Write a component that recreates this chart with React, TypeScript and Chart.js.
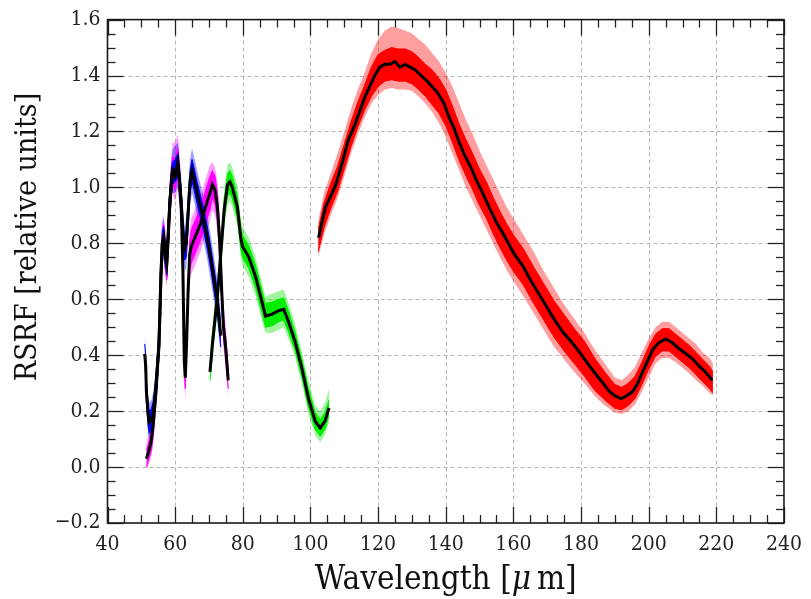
import React, { useEffect, useRef } from 'react';
import { Chart, registerables } from 'chart.js';
Chart.register(...registerables);

// ---------- axis values ----------
const X_MIN = 40, X_MAX = 240, Y_MIN = -0.2, Y_MAX = 1.6;
const xTickValues = [40, 60, 80, 100, 120, 140, 160, 180, 200, 220, 240];
const yTickValues = [-0.2, 0.0, 0.2, 0.4, 0.6, 0.8, 1.0, 1.2, 1.4, 1.6];
const X_MINOR_STEP = 5;
const Y_MINOR_STEP = 0.05;
const xTitle = ['Wavelength [', 'μ', '\u2009m]'];
const yTitle = 'RSRF [relative units]';

// ---------- blue (curve A) ----------
const blueX = [51.0, 51.3, 51.5, 52.0, 52.3, 53.0, 53.6, 54.0, 54.4, 54.8, 55.2, 55.5, 55.8, 56.2, 56.6, 57.0, 57.5, 58.0, 58.5, 59.2, 60.0, 60.8, 61.3, 61.8, 62.3, 62.8, 63.3, 63.8, 64.4, 65.0, 65.6, 66.5, 67.5, 68.5, 69.5, 70.5, 71.5, 72.5, 73.5];
const blueY = [0.405, 0.36, 0.27, 0.19, 0.16, 0.17, 0.20, 0.25, 0.30, 0.37, 0.44, 0.56, 0.69, 0.80, 0.82, 0.77, 0.73, 0.85, 0.96, 1.05, 1.06, 1.08, 1.02, 0.95, 0.84, 0.78, 0.80, 0.90, 1.02, 1.06, 1.03, 0.98, 0.93, 0.88, 0.82, 0.75, 0.67, 0.59, 0.47];
const blueInU = [0.44, 0.40, 0.31, 0.23, 0.20, 0.21, 0.24, 0.29, 0.34, 0.41, 0.48, 0.60, 0.73, 0.84, 0.86, 0.81, 0.77, 0.89, 1.00, 1.09, 1.10, 1.12, 1.06, 0.99, 0.88, 0.82, 0.85, 0.95, 1.06, 1.10, 1.07, 1.02, 0.97, 0.92, 0.86, 0.79, 0.71, 0.63, 0.51];
const blueInL = [0.37, 0.32, 0.23, 0.15, 0.12, 0.13, 0.16, 0.21, 0.26, 0.33, 0.40, 0.52, 0.65, 0.76, 0.78, 0.73, 0.69, 0.81, 0.92, 1.01, 1.02, 1.04, 0.98, 0.91, 0.80, 0.74, 0.75, 0.85, 0.98, 1.02, 0.99, 0.94, 0.89, 0.84, 0.78, 0.71, 0.63, 0.55, 0.43];
const blueOutU = [0.47, 0.43, 0.34, 0.26, 0.23, 0.24, 0.27, 0.32, 0.37, 0.44, 0.51, 0.63, 0.76, 0.87, 0.89, 0.84, 0.80, 0.92, 1.04, 1.13, 1.15, 1.16, 1.10, 1.03, 0.92, 0.86, 0.89, 0.99, 1.10, 1.14, 1.11, 1.06, 1.01, 0.96, 0.90, 0.83, 0.75, 0.67, 0.55];
const blueOutL = [0.34, 0.29, 0.20, 0.12, 0.09, 0.10, 0.13, 0.18, 0.23, 0.30, 0.37, 0.49, 0.62, 0.73, 0.75, 0.70, 0.66, 0.78, 0.89, 0.98, 0.98, 1.00, 0.94, 0.87, 0.76, 0.70, 0.71, 0.81, 0.94, 0.98, 0.95, 0.90, 0.85, 0.80, 0.74, 0.67, 0.59, 0.51, 0.40];

// ---------- magenta (curve B) ----------
const magX = [51.5, 52.0, 52.5, 53.0, 53.5, 54.0, 54.4, 54.8, 55.2, 55.5, 55.8, 56.2, 56.6, 57.0, 57.5, 58.0, 58.5, 59.2, 60.0, 60.8, 61.3, 61.8, 62.3, 62.7, 63.0, 63.4, 63.8, 64.3, 64.8, 65.5, 66.5, 67.5, 68.5, 69.5, 70.3, 71.0, 71.8, 72.5, 73.2, 73.8, 74.3, 75.0, 75.7];
const magY = [0.03, 0.05, 0.07, 0.10, 0.15, 0.22, 0.28, 0.36, 0.43, 0.55, 0.68, 0.80, 0.82, 0.77, 0.72, 0.83, 0.96, 1.06, 1.04, 1.09, 1.02, 0.93, 0.70, 0.38, 0.32, 0.45, 0.62, 0.76, 0.79, 0.81, 0.84, 0.87, 0.91, 0.95, 0.98, 1.01, 0.99, 0.93, 0.80, 0.62, 0.50, 0.42, 0.31];
const magInU = [0.06, 0.08, 0.10, 0.14, 0.19, 0.26, 0.32, 0.40, 0.47, 0.59, 0.72, 0.85, 0.87, 0.82, 0.77, 0.88, 1.01, 1.11, 1.10, 1.14, 1.07, 0.98, 0.75, 0.42, 0.36, 0.49, 0.66, 0.81, 0.85, 0.87, 0.90, 0.93, 0.97, 1.01, 1.04, 1.06, 1.04, 0.98, 0.85, 0.66, 0.54, 0.46, 0.34];
const magInL = [0.00, 0.02, 0.04, 0.06, 0.11, 0.18, 0.24, 0.32, 0.39, 0.51, 0.64, 0.75, 0.77, 0.72, 0.67, 0.78, 0.91, 1.01, 0.99, 1.04, 0.97, 0.88, 0.65, 0.34, 0.28, 0.41, 0.58, 0.71, 0.73, 0.75, 0.78, 0.81, 0.85, 0.89, 0.92, 0.96, 0.94, 0.88, 0.75, 0.58, 0.46, 0.38, 0.28];
const magOutU = [0.09, 0.11, 0.13, 0.17, 0.22, 0.29, 0.35, 0.43, 0.50, 0.62, 0.75, 0.88, 0.90, 0.86, 0.81, 0.92, 1.05, 1.16, 1.16, 1.19, 1.12, 1.03, 0.80, 0.46, 0.40, 0.53, 0.70, 0.85, 0.89, 0.91, 0.94, 0.97, 1.01, 1.05, 1.08, 1.09, 1.07, 1.02, 0.89, 0.70, 0.58, 0.50, 0.37];
const magOutL = [-0.01, 0.00, 0.02, 0.04, 0.08, 0.15, 0.21, 0.29, 0.36, 0.48, 0.61, 0.72, 0.74, 0.69, 0.64, 0.75, 0.88, 0.98, 0.95, 1.00, 0.93, 0.84, 0.60, 0.30, 0.24, 0.37, 0.54, 0.67, 0.69, 0.71, 0.74, 0.77, 0.81, 0.85, 0.88, 0.92, 0.90, 0.84, 0.71, 0.54, 0.42, 0.34, 0.25];

// ---------- green ----------
const greenX = [70.3, 71.1, 72.5, 73.5, 74.5, 75.5, 76.2, 76.9, 78.4, 79.4, 79.9, 81.8, 83.8, 85.7, 86.7, 88.7, 90.6, 92.1, 93.6, 95.5, 97.5, 99.4, 101.4, 102.9, 104.3, 105.5];
const greenY = [0.34, 0.45, 0.61, 0.765, 0.92, 1.01, 1.02, 1.00, 0.93, 0.82, 0.79, 0.75, 0.68, 0.59, 0.54, 0.547, 0.559, 0.564, 0.517, 0.447, 0.352, 0.246, 0.164, 0.14, 0.164, 0.211];
const greenInU = [0.37, 0.48, 0.645, 0.80, 0.955, 1.05, 1.06, 1.04, 0.97, 0.86, 0.83, 0.79, 0.72, 0.63, 0.585, 0.59, 0.60, 0.605, 0.555, 0.48, 0.385, 0.28, 0.195, 0.17, 0.195, 0.24];
const greenInL = [0.31, 0.42, 0.575, 0.73, 0.885, 0.97, 0.98, 0.96, 0.89, 0.78, 0.75, 0.71, 0.64, 0.55, 0.50, 0.505, 0.52, 0.525, 0.48, 0.415, 0.32, 0.215, 0.135, 0.11, 0.135, 0.185];
const greenOutU = [0.40, 0.52, 0.68, 0.84, 0.99, 1.08, 1.09, 1.07, 1.01, 0.89, 0.86, 0.82, 0.75, 0.66, 0.61, 0.62, 0.63, 0.635, 0.585, 0.51, 0.41, 0.31, 0.22, 0.20, 0.23, 0.28];
const greenOutL = [0.29, 0.39, 0.55, 0.70, 0.85, 0.94, 0.95, 0.93, 0.86, 0.75, 0.72, 0.68, 0.61, 0.52, 0.48, 0.48, 0.49, 0.50, 0.455, 0.39, 0.295, 0.19, 0.115, 0.09, 0.115, 0.16];

// ---------- red ----------
const redLineX = [102.4, 103.3, 104.5, 106.0, 107.5, 109.2, 111.2, 113.0, 114.5, 116.0, 117.5, 119.0, 120.5, 122.0, 123.5, 125.0, 126.5, 128.0, 129.5, 131.0, 132.7, 134.5, 136.0, 137.5, 139.5, 141.0, 142.5, 144.0, 145.4, 147.5, 149.3, 151.3, 153.2, 155.2, 157.2, 160.1, 163.0, 165.0, 168.0, 170.0, 172.5, 174.8, 177.0, 179.6, 182.0, 184.5, 186.5, 188.4, 190.0, 191.9, 193.5, 195.3, 196.8, 198.2, 199.7, 201.2, 203.0, 205.1, 207.0, 209.0, 211.0, 212.9, 215.0, 216.8, 218.8];
const redLineY = [0.82, 0.87, 0.93, 0.97, 1.01, 1.08, 1.17, 1.22, 1.27, 1.32, 1.36, 1.40, 1.43, 1.44, 1.44, 1.45, 1.43, 1.44, 1.43, 1.42, 1.40, 1.38, 1.36, 1.34, 1.30, 1.25, 1.21, 1.16, 1.12, 1.07, 1.02, 0.97, 0.92, 0.87, 0.83, 0.765, 0.715, 0.67, 0.61, 0.57, 0.52, 0.48, 0.45, 0.41, 0.37, 0.33, 0.30, 0.27, 0.255, 0.245, 0.255, 0.27, 0.30, 0.34, 0.38, 0.42, 0.445, 0.458, 0.445, 0.423, 0.405, 0.388, 0.36, 0.34, 0.31];
const redEnvX = [102.3, 104, 106, 108, 110, 112, 114, 116, 118, 120, 122, 124, 126, 128, 130, 132, 134, 136, 138, 140, 142, 144, 146, 148, 150, 152, 154, 156, 158, 160, 163, 166, 169, 172, 175, 178, 181, 184, 187, 190, 192, 194, 196, 198, 200, 202, 204, 206, 208, 210, 212, 214, 216, 218, 219];
const redInU = [0.85, 0.945, 1.015, 1.075, 1.155, 1.235, 1.305, 1.365, 1.43, 1.475, 1.49, 1.50, 1.495, 1.495, 1.485, 1.465, 1.44, 1.42, 1.39, 1.35, 1.29, 1.225, 1.17, 1.12, 1.065, 1.02, 0.965, 0.915, 0.87, 0.83, 0.78, 0.715, 0.655, 0.595, 0.545, 0.495, 0.45, 0.39, 0.34, 0.295, 0.285, 0.30, 0.325, 0.375, 0.43, 0.475, 0.495, 0.495, 0.475, 0.455, 0.435, 0.41, 0.385, 0.36, 0.34];
const redInL = [0.77, 0.855, 0.925, 0.985, 1.065, 1.145, 1.215, 1.275, 1.325, 1.36, 1.38, 1.385, 1.38, 1.38, 1.37, 1.35, 1.325, 1.295, 1.265, 1.22, 1.16, 1.095, 1.04, 0.99, 0.935, 0.89, 0.835, 0.785, 0.74, 0.70, 0.65, 0.585, 0.525, 0.465, 0.415, 0.37, 0.325, 0.275, 0.24, 0.21, 0.205, 0.22, 0.245, 0.295, 0.35, 0.395, 0.415, 0.415, 0.395, 0.375, 0.355, 0.33, 0.305, 0.28, 0.265];
const redOutU = [0.88, 0.98, 1.05, 1.12, 1.20, 1.28, 1.35, 1.41, 1.48, 1.53, 1.56, 1.575, 1.57, 1.56, 1.55, 1.53, 1.51, 1.48, 1.45, 1.41, 1.36, 1.30, 1.24, 1.19, 1.13, 1.08, 1.03, 0.98, 0.93, 0.89, 0.83, 0.77, 0.70, 0.64, 0.58, 0.53, 0.48, 0.42, 0.37, 0.32, 0.31, 0.33, 0.36, 0.41, 0.46, 0.50, 0.52, 0.52, 0.50, 0.48, 0.46, 0.44, 0.41, 0.39, 0.37];
const redOutL = [0.75, 0.83, 0.90, 0.96, 1.04, 1.12, 1.19, 1.25, 1.30, 1.33, 1.35, 1.355, 1.35, 1.35, 1.345, 1.325, 1.30, 1.27, 1.23, 1.18, 1.12, 1.06, 1.00, 0.95, 0.90, 0.85, 0.80, 0.75, 0.705, 0.665, 0.61, 0.55, 0.49, 0.43, 0.385, 0.34, 0.30, 0.255, 0.22, 0.195, 0.19, 0.20, 0.225, 0.27, 0.32, 0.37, 0.39, 0.39, 0.375, 0.355, 0.335, 0.31, 0.29, 0.265, 0.255];

const pts = (xs: number[], ys: number[]) => xs.map((x, i) => ({ x, y: ys[i] }));

function buildDatasets() {
  const ds: any[] = [];
  const band = (xs: number[], up: number[], lo: number[], color: string, border: string, order: number) => {
    const i = ds.length;
    ds.push({ data: pts(xs, up), borderColor: border, borderWidth: 1, pointRadius: 0, fill: false, order, tension: 0 });
    ds.push({ data: pts(xs, lo), borderColor: border, borderWidth: 1, pointRadius: 0, fill: i, backgroundColor: color, order, tension: 0 });
  };
  const line = (xs: number[], ys: number[]) => {
    ds.push({ data: pts(xs, ys), borderColor: '#000000', borderWidth: 3, pointRadius: 0, fill: false, order: 0, tension: 0 });
  };
  // sparse outer scatter
  band(redEnvX, redOutU, redOutL, 'rgba(255,0,0,0.38)', 'rgba(0,0,0,0)', 40);
  band(greenX, greenOutU, greenOutL, 'rgba(0,230,0,0.38)', 'rgba(0,0,0,0)', 40);
  band(magX, magOutU, magOutL, 'rgba(255,0,255,0.38)', 'rgba(0,0,0,0)', 41);
  band(blueX, blueOutU, blueOutL, 'rgba(0,0,255,0.38)', 'rgba(0,0,0,0)', 39);
  // dense inner scatter
  band(redEnvX, redInU, redInL, '#ff0000', '#ff0000', 20);
  band(greenX, greenInU, greenInL, '#00ee00', '#00ee00', 20);
  band(magX, magInU, magInL, '#ff00ff', '#ff00ff', 22);
  band(blueX, blueInU, blueInL, '#0000ff', '#0000ff', 21);
  // averaged black curves
  line(redLineX, redLineY);
  line(greenX, greenY);
  line(magX, magY);
  line(blueX, blueY);
  return ds;
}

const FONT = '"DejaVu Serif Condensed", "DejaVu Serif", serif';

const framePlugin = {
  id: 'framePlugin',
  beforeDatasetsDraw(chart: any) {
    const { ctx, chartArea: a, scales } = chart;
    const x = scales.x, y = scales.y;
    ctx.save();
    ctx.strokeStyle = '#b5b5b5';
    ctx.lineWidth = 1;
    ctx.setLineDash([4, 3]);
    for (const v of xTickValues) {
      if (v <= X_MIN || v >= X_MAX) continue;
      const p = Math.round(x.getPixelForValue(v)) + 0.5;
      ctx.beginPath(); ctx.moveTo(p, a.top); ctx.lineTo(p, a.bottom); ctx.stroke();
    }
    for (const v of yTickValues) {
      if (v <= Y_MIN + 1e-9 || v >= Y_MAX - 1e-9) continue;
      const p = Math.round(y.getPixelForValue(v)) + 0.5;
      ctx.beginPath(); ctx.moveTo(a.left, p); ctx.lineTo(a.right, p); ctx.stroke();
    }
    ctx.restore();
  },
  afterDatasetsDraw(chart: any) {
    const { ctx, chartArea: a, scales } = chart;
    const x = scales.x, y = scales.y;
    ctx.save();
    ctx.setLineDash([]);
    ctx.strokeStyle = '#222';
    ctx.lineWidth = 1.3;
    const MAJ = 16, MIN = 8;
    const nx = Math.round((X_MAX - X_MIN) / X_MINOR_STEP);
    for (let k = 0; k <= nx; k++) {
      const v = X_MIN + k * X_MINOR_STEP;
      const major = xTickValues.some((t) => Math.abs(t - v) < 1e-6);
      const len = major ? MAJ : MIN;
      const p = Math.round(x.getPixelForValue(v)) + 0.5;
      ctx.beginPath(); ctx.moveTo(p, a.bottom); ctx.lineTo(p, a.bottom - len); ctx.stroke();
      ctx.beginPath(); ctx.moveTo(p, a.top); ctx.lineTo(p, a.top + len); ctx.stroke();
    }
    const ny = Math.round((Y_MAX - Y_MIN) / Y_MINOR_STEP);
    for (let k = 0; k <= ny; k++) {
      const v = Y_MIN + k * Y_MINOR_STEP;
      const major = yTickValues.some((t) => Math.abs(t - v) < 1e-6);
      const len = major ? MAJ : MIN;
      const p = Math.round(y.getPixelForValue(v)) + 0.5;
      ctx.beginPath(); ctx.moveTo(a.left, p); ctx.lineTo(a.left + len, p); ctx.stroke();
      ctx.beginPath(); ctx.moveTo(a.right, p); ctx.lineTo(a.right - len, p); ctx.stroke();
    }
    ctx.lineWidth = 1.6;
    ctx.strokeStyle = '#1a1a1a';
    ctx.strokeRect(a.left, a.top, a.right - a.left, a.bottom - a.top);
    ctx.restore();
  },
  afterDraw(chart: any) {
    const { ctx, chartArea: a } = chart;
    ctx.save();
    ctx.fillStyle = '#111';
    // x title
    const fsx = 33;
    const parts = xTitle.map((t, i) => ({ t, font: (i === 1 ? 'italic ' : '') + fsx + 'px ' + FONT }));
    let total = 0;
    const widths = parts.map((p) => { ctx.font = p.font; const w = ctx.measureText(p.t).width; total += w; return w; });
    let cx = (a.left + a.right) / 2 - total / 2;
    ctx.textBaseline = 'alphabetic';
    ctx.textAlign = 'left';
    parts.forEach((p, i) => { ctx.font = p.font; ctx.fillText(p.t, cx, 589); cx += widths[i]; });
    // y title
    ctx.font = '30px ' + FONT;
    ctx.translate(36, 237);
    ctx.rotate(-Math.PI / 2);
    ctx.textAlign = 'center';
    ctx.fillText(yTitle, 0, 0);
    ctx.restore();
  },
};

export default function App() {
  const ref = useRef<HTMLCanvasElement | null>(null);
  useEffect(() => {
    if (!ref.current) return;
    const chart = new Chart(ref.current, {
      type: 'line',
      data: { datasets: buildDatasets() },
      options: {
        responsive: false,
        animation: false,
        events: [],
        layout: { padding: { left: 0, top: 13.5, right: 22, bottom: 0 } },
        plugins: { legend: { display: false }, tooltip: { enabled: false }, title: { display: false } },
        scales: {
          x: {
            type: 'linear', min: X_MIN, max: X_MAX,
            grid: { display: false, drawTicks: false },
            border: { display: false },
            afterBuildTicks: (s: any) => { s.ticks = xTickValues.map((v) => ({ value: v })); },
            afterFit: (s: any) => { s.height = 76; },
            ticks: {
              autoSkip: false, maxRotation: 0, padding: 9, color: '#222',
              font: { family: FONT, size: 21 },
              callback: (v: any) => String(Math.round(Number(v))),
            },
          },
          y: {
            type: 'linear', min: Y_MIN, max: Y_MAX,
            grid: { display: false, drawTicks: false },
            border: { display: false },
            afterBuildTicks: (s: any) => { s.ticks = yTickValues.map((v) => ({ value: v })); },
            afterFit: (s: any) => { s.width = 107.5; },
            ticks: {
              autoSkip: false, padding: 7, color: '#222',
              font: { family: FONT, size: 21 },
              callback: (v: any) => {
                const n = Number(v);
                if (Math.abs(n) < 1e-9) return '0.0';
                return n < 0 ? '\u2212' + Math.abs(n).toFixed(1) : n.toFixed(1);
              },
            },
          },
        },
      },
      plugins: [framePlugin],
    } as any);
    return () => chart.destroy();
  }, []);
  return (
    <div style={{ position: 'fixed', left: 0, top: 0, width: 811, height: 599, background: '#fff' }}>
      <canvas ref={ref} width={811} height={599} style={{ display: 'block', width: 811, height: 599 }} />
    </div>
  );
}
